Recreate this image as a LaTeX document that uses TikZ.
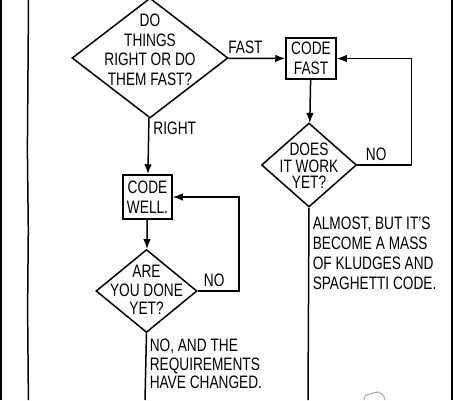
\documentclass[tikz,border=0pt]{standalone}
\usepackage{fontspec}
\setmainfont{Liberation Sans}[FakeStretch=0.76]
\usetikzlibrary{shapes.geometric,arrows.meta}
\begin{document}
\begin{tikzpicture}[x=1pt,y=-1pt,line width=1.5pt,auto,
  every node/.style={font=\fontsize{18}{19.5}\selectfont,align=center,inner sep=0pt},
  decision/.style={draw,diamond},
  stepbox/.style={draw,rectangle,minimum width=50pt,minimum height=41pt},
  lbl/.style={inner sep=4pt},
  flow/.style={-{Latex[length=10pt,width=7.5pt]}}]
\useasboundingbox (0,0) rectangle (455,400);
\node (q1) [decision,minimum width=156pt,minimum height=120pt] at (150,58) {};
\node (q1t) at (150,50) {DO\\THINGS\\RIGHT OR DO\\THEM FAST?};
\node (fast) [stepbox] at (311,58.5) {CODE\\FAST};
\node (q2) [decision,minimum width=95pt,minimum height=84pt] at (309,165) {};
\node (q2t) [font=\fontsize{18}{16.5}\selectfont] at (309,166) {DOES\\IT WORK\\YET?};
\node (well) [stepbox,minimum width=49pt,minimum height=44pt] at (147.5,197) {CODE\\WELL.};
\node (q3) [decision,minimum width=101pt,minimum height=83pt] at (146.5,291) {};
\node (q3t) [font=\fontsize{18}{18.5}\selectfont] at (146.5,290) {ARE\\YOU DONE\\YET?};
\node (kludge) [anchor=north west,align=left,font=\fontsize{18}{20}\selectfont] at (312,216) {ALMOST, BUT IT'S\\BECOME A MASS\\OF KLUDGES AND\\SPAGHETTI CODE.};
\node (changed) [anchor=north west,align=left,font=\fontsize{18}{18.5}\selectfont] at (149,338.5) {NO, AND THE\\REQUIREMENTS\\HAVE CHANGED.};
\coordinate (end2) at (308,400);
\coordinate (end3) at (145,400);
\path[flow] (q1) edge node[lbl,pos=0.3] {FAST} (fast);
\path[flow] (q1) edge node[lbl,pos=0.18] {RIGHT} (well);
\path[flow] (fast) edge (q2);
\path[flow] (well) edge (q3);
\draw[flow] (q2.east) -- node[lbl,pos=0.35] {NO} ++(54,0) |- (fast.east);
\draw[flow] (q3.east) -- node[lbl,pos=0.4] {NO} ++(41,0) |- (well.east);
\draw (q2.south) -- (end2);
\draw (q3.south) -- (end3);
\draw[line width=2.5pt] (0.8,0) -- (0.8,400);
\draw[line width=2pt] (452,0) -- (452,400);
\draw (28.5,0) -- (28,70) -- (27.4,150) -- (28.3,230) -- (27.6,310) -- (28.4,400);
\draw[gray!70,line width=1pt] (364,400) .. controls (364,395) and (367,394) .. (370,394) .. controls (373,394) and (375,391) .. (378,392) .. controls (381,393) and (384,394) .. (385,400);
\end{tikzpicture}
\end{document}
